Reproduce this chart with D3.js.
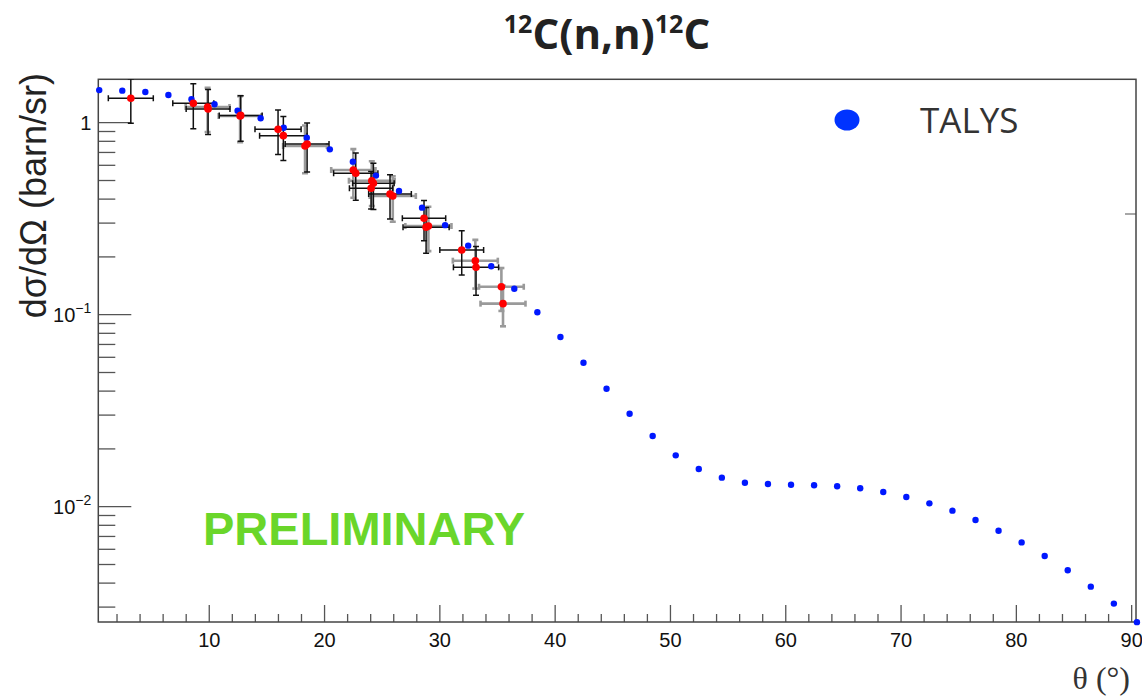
<!DOCTYPE html>
<html>
<head>
<meta charset="utf-8">
<script src="https://cdn.jsdelivr.net/npm/d3@7"></script>
<style>
  body { margin: 0; background: #fff; }
  svg { display: block; }
</style>
</head>
<body>
<div id="graph"></div>
<script>
// TALYS calculation (blue points)
const talysTheta = [0.5, 2.5, 4.5, 6.5, 8.5, 10.5, 12.5, 14.5, 16.5, 18.5,
    20.5, 22.5, 24.5, 26.5, 28.5, 30.5, 32.5, 34.5, 36.5, 38.5,
    40.5, 42.5, 44.5, 46.5, 48.5, 50.5, 52.5, 54.5, 56.5, 58.5,
    60.5, 62.5, 64.5, 66.5, 68.5, 70.5, 72.5, 74.5, 76.5, 78.5,
    80.5, 82.5, 84.5, 86.5, 88.5, 90.5];
const talysXS = [1.47, 1.46, 1.436, 1.386, 1.316, 1.24, 1.148, 1.048, 0.936, 0.83,
    0.722, 0.623, 0.527, 0.438, 0.359, 0.291, 0.2275, 0.1776, 0.1358, 0.1023,
    0.0761, 0.0559, 0.0409, 0.0303, 0.0232, 0.0184, 0.01563, 0.01408, 0.01326, 0.01305,
    0.01294, 0.01285, 0.0127, 0.0124, 0.01186, 0.01117, 0.01035, 0.00948, 0.00848, 0.00745,
    0.00648, 0.0055, 0.00464, 0.00381, 0.00311, 0.00249];

// measurement, black error bars
const expATheta = [3.24, 8.66, 9.94, 12.77, 16.01, 16.47, 18.53, 22.75, 24.28, 24.08, 25.72, 28.67, 28.85, 31.94, 33.18];
const expAThetaErr = [1.95, 1.78, 1.9, 1.86, 2.0, 2.06, 1.9, 1.92, 1.8, 1.88, 1.85, 1.88, 2.0, 1.9, 1.96];
const expAXS = [1.332, 1.254, 1.172, 1.085, 0.918, 0.851, 0.77, 0.542, 0.481, 0.453, 0.423, 0.316, 0.284, 0.216, 0.1755];
const expAXSErr = [0.345, 0.33, 0.31, 0.29, 0.24, 0.22, 0.22, 0.15, 0.13, 0.1, 0.11, 0.075, 0.076, 0.056, 0.05];

// measurement, grey error bars
const expBTheta = [9.9, 12.72, 18.35, 22.54, 24.14, 25.96, 29.05, 33.12, 35.38, 35.52];
const expBThetaErr = [1.9, 1.86, 1.9, 1.92, 1.98, 2.0, 2.0, 1.95, 1.94, 1.95];
const expBXS = [1.2, 1.078, 0.752, 0.564, 0.496, 0.413, 0.288, 0.19, 0.139, 0.1135];
const expBXSErr = [0.31, 0.29, 0.21, 0.16, 0.13, 0.11, 0.075, 0.054, 0.035, 0.027];

const xMajor = [10, 20, 30, 40, 50, 60, 70, 80, 90];
const xMinor = [2, 4, 6, 8, 12, 14, 16, 18, 22, 24, 26, 28, 32, 34, 36, 38, 42, 44, 46, 48,
    52, 54, 56, 58, 62, 64, 66, 68, 72, 74, 76, 78, 82, 84, 86, 88];
const yMajor = [0.01, 0.1, 1];
const yMajorLabels = [["10", "\u22122"], ["10", "\u22121"], ["1", ""]];
const yMinor = [0.003, 0.004, 0.005, 0.006, 0.007, 0.008, 0.009,
    0.02, 0.03, 0.04, 0.05, 0.06, 0.07, 0.08, 0.09,
    0.2, 0.3, 0.4, 0.5, 0.6, 0.7, 0.8, 0.9];

function main() {
    const svg = d3.select("#graph").append("svg").attr("width", 1142).attr("height", 700);
    const frame = { left: 98.3, right: 1136, top: 79.3, bottom: 622 };

    const x = d3.scaleLinear().domain([0.42, 90.42]).range([frame.left, frame.right]);
    const y = d3.scaleLog().domain([0.002494, 1.673]).range([frame.bottom, frame.top]);

    svg.append("defs").append("clipPath").attr("id", "clip")
        .append("rect")
        .attr("x", frame.left).attr("y", frame.top)
        .attr("width", frame.right - frame.left).attr("height", frame.bottom - frame.top);

    // ticks (inward, ROOT style)
    const axisColor = "#555";
    const gxMinor = svg.append("g").attr("transform", `translate(0,${frame.bottom})`)
        .call(d3.axisBottom(x).tickValues(xMinor).tickSize(-8).tickFormat("").tickSizeOuter(0));
    const gx = svg.append("g").attr("transform", `translate(0,${frame.bottom})`)
        .call(d3.axisBottom(x).tickValues(xMajor).tickSize(-17).tickPadding(6).tickSizeOuter(0));
    gx.selectAll("text")
        .attr("font-family", "Liberation Sans, Arial, sans-serif")
        .attr("font-size", 20)
        .attr("fill", "#111")
        .attr("dy", "0.95em");

    const gyMinor = svg.append("g").attr("transform", `translate(${frame.left},0)`)
        .call(d3.axisLeft(y).tickValues(yMinor).tickSize(-17).tickFormat("").tickSizeOuter(0));
    const gy = svg.append("g").attr("transform", `translate(${frame.left},0)`)
        .call(d3.axisLeft(y).tickValues(yMajor).tickSize(-33).tickPadding(7).tickFormat("").tickSizeOuter(0));
    gy.selectAll(".tick text").each(function (d, i) {
        const t = d3.select(this)
            .attr("font-family", "Liberation Sans, Arial, sans-serif")
            .attr("font-size", 20)
            .attr("fill", "#111")
            .attr("dy", "0.35em");
        t.append("tspan").text(yMajorLabels[i][0]);
        if (yMajorLabels[i][1]) {
            t.append("tspan").attr("font-size", 14).attr("dy", -9).text(yMajorLabels[i][1]);
        }
    });

    [gxMinor, gx, gyMinor, gy].forEach(g => {
        g.select(".domain").remove();
        g.selectAll("line").attr("stroke", axisColor).attr("stroke-width", 1.3);
    });

    // odd single tick on the right edge
    svg.append("line")
        .attr("x1", frame.right - 11).attr("x2", frame.right)
        .attr("y1", 214).attr("y2", 214)
        .attr("stroke", "#777").attr("stroke-width", 1.3);

    // frame
    svg.append("rect")
        .attr("x", frame.left).attr("y", frame.top)
        .attr("width", frame.right - frame.left).attr("height", frame.bottom - frame.top)
        .attr("fill", "none").attr("stroke", "#444").attr("stroke-width", 1.5);

    // error bars
    const makeSet = (th, thE, v, vE) => th.map((t, i) => ({ t, te: thE[i], v: v[i], ve: vE[i] }));
    const setA = makeSet(expATheta, expAThetaErr, expAXS, expAXSErr);
    const setB = makeSet(expBTheta, expBThetaErr, expBXS, expBXSErr);

    const plot = svg.append("g").attr("clip-path", "url(#clip)");

    function drawErrors(data, color, width) {
        const g = plot.append("g").attr("stroke", color).attr("stroke-width", width).attr("fill", "none");
        const cap = 3;
        data.forEach(d => {
            const cx = x(d.t), cy = y(d.v);
            const x0 = x(d.t - d.te), x1 = x(d.t + d.te);
            const y0 = y(d.v - d.ve), y1 = y(d.v + d.ve);
            g.append("line").attr("x1", x0).attr("x2", x1).attr("y1", cy).attr("y2", cy);
            g.append("line").attr("x1", cx).attr("x2", cx).attr("y1", y0).attr("y2", y1);
            g.append("line").attr("x1", x0).attr("x2", x0).attr("y1", cy - cap).attr("y2", cy + cap);
            g.append("line").attr("x1", x1).attr("x2", x1).attr("y1", cy - cap).attr("y2", cy + cap);
            g.append("line").attr("x1", cx - cap).attr("x2", cx + cap).attr("y1", y0).attr("y2", y0);
            g.append("line").attr("x1", cx - cap).attr("x2", cx + cap).attr("y1", y1).attr("y2", y1);
        });
    }
    drawErrors(setB, "#9a9a9a", 2.6);
    drawErrors(setA, "#111", 1.5);

    // TALYS
    svg.append("g").selectAll("circle")
        .data(talysTheta.map((t, i) => ({ t, v: talysXS[i] })))
        .join("circle")
        .attr("cx", d => x(d.t))
        .attr("cy", d => y(d.v))
        .attr("r", 3.2)
        .attr("fill", "#0018ff");

    // measured points
    svg.append("g").selectAll("circle")
        .data(setA.concat(setB))
        .join("circle")
        .attr("cx", d => x(d.t))
        .attr("cy", d => y(d.v))
        .attr("r", 3.8)
        .attr("fill", "#ff0000");

    // legend
    svg.append("ellipse")
        .attr("cx", 847).attr("cy", 120).attr("rx", 12.5).attr("ry", 10.5)
        .attr("fill", "#0033ff");
    svg.append("text")
        .attr("x", 920).attr("y", 133)
        .attr("font-family", "Open Sans, sans-serif")
        .attr("font-size", 35)
        .attr("fill", "#333")
        .text("TALYS");

    // title
    const title = svg.append("text")
        .attr("x", 607).attr("y", 49)
        .attr("text-anchor", "middle")
        .attr("font-family", "Open Sans, sans-serif")
        .attr("font-weight", "bold")
        .attr("font-size", 42)
        .attr("fill", "#222");
    title.append("tspan").attr("font-size", 25).attr("dy", -16).text("12");
    title.append("tspan").attr("dy", 16).text("C(n,n)");
    title.append("tspan").attr("font-size", 25).attr("dy", -16).text("12");
    title.append("tspan").attr("dy", 16).text("C");

    // preliminary
    svg.append("text")
        .attr("x", 203).attr("y", 545)
        .attr("font-family", "Liberation Sans, Arial, sans-serif")
        .attr("font-weight", "bold")
        .attr("font-size", 47)
        .attr("fill", "#6ad62a")
        .text("PRELIMINARY");

    // axis titles
    svg.append("text")
        .attr("transform", "translate(46,73) rotate(-90)")
        .attr("text-anchor", "end")
        .attr("font-family", "Liberation Sans, Arial, sans-serif")
        .attr("font-size", 36)
        .attr("fill", "#222")
        .text("d\u03c3/d\u03a9 (barn/sr)");

    svg.append("text")
        .attr("x", 1130).attr("y", 689)
        .attr("text-anchor", "end")
        .attr("font-family", "Liberation Serif, DejaVu Serif, serif")
        .attr("font-size", 32)
        .attr("fill", "#333")
        .text("\u03b8 (\u00b0)");
}

main();
</script>
</body>
</html>
